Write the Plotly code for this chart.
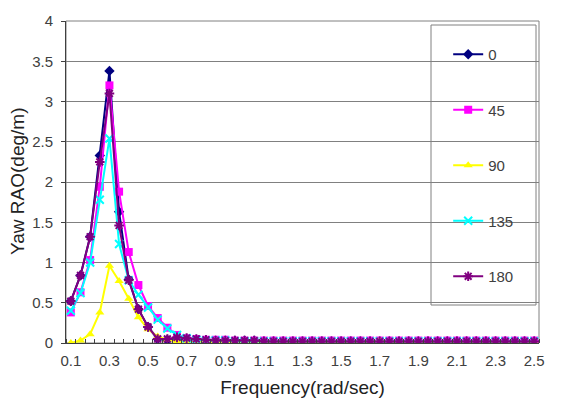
import plotly.graph_objects as go

# Wave frequency (rad/sec)
freq = [0.10, 0.15, 0.20, 0.25, 0.30, 0.35, 0.40, 0.45, 0.50, 0.55,
        0.60, 0.65, 0.70, 0.75, 0.80, 0.85, 0.90, 0.95, 1.00, 1.05,
        1.10, 1.15, 1.20, 1.25, 1.30, 1.35, 1.40, 1.45, 1.50, 1.55,
        1.60, 1.65, 1.70, 1.75, 1.80, 1.85, 1.90, 1.95, 2.00, 2.05,
        2.10, 2.15, 2.20, 2.25, 2.30, 2.35, 2.40, 2.45, 2.50]

# Yaw RAO (deg/m) per heading
rao_0 = [0.52, 0.84, 1.32, 2.33, 3.38, 1.63, 0.79, 0.42, 0.20, 0.05,
         0.04, 0.05, 0.04, 0.04, 0.03, 0.03, 0.03, 0.03, 0.03, 0.03,
         0.02, 0.02, 0.02, 0.02, 0.02, 0.02, 0.02, 0.02, 0.02, 0.02,
         0.02, 0.02, 0.02, 0.02, 0.02, 0.02, 0.02, 0.02, 0.02, 0.02,
         0.02, 0.02, 0.02, 0.02, 0.02, 0.02, 0.02, 0.02, 0.02]
rao_45 = [0.38, 0.63, 1.03, 1.94, 3.20, 1.88, 1.13, 0.72, 0.46, 0.31,
          0.19, 0.10, 0.06, 0.05, 0.04, 0.04, 0.04, 0.03, 0.03, 0.03,
          0.03, 0.03, 0.03, 0.03, 0.03, 0.03, 0.03, 0.03, 0.03, 0.03,
          0.03, 0.03, 0.03, 0.03, 0.03, 0.03, 0.03, 0.03, 0.03, 0.03,
          0.03, 0.03, 0.03, 0.03, 0.03, 0.03, 0.03, 0.03, 0.03]
rao_90 = [0.00, 0.03, 0.11, 0.38, 0.96, 0.77, 0.55, 0.32, 0.17, 0.08,
          0.04, 0.02, 0.02, 0.01, 0.01, 0.01, 0.01, 0.01, 0.01, 0.01,
          0.01, 0.01, 0.01, 0.01, 0.01, 0.01, 0.01, 0.01, 0.01, 0.01,
          0.01, 0.01, 0.03, 0.01, 0.01, 0.01, 0.01, 0.01, 0.01, 0.01,
          0.01, 0.01, 0.02, 0.01, 0.01, 0.01, 0.01, 0.01, 0.01]
rao_135 = [0.40, 0.62, 1.00, 1.78, 2.54, 1.23, 0.78, 0.60, 0.44, 0.29,
           0.18, 0.10, 0.06, 0.04, 0.03, 0.03, 0.03, 0.02, 0.02, 0.02,
           0.02, 0.02, 0.02, 0.02, 0.02, 0.02, 0.02, 0.02, 0.02, 0.02,
           0.02, 0.02, 0.02, 0.02, 0.02, 0.02, 0.02, 0.02, 0.02, 0.02,
           0.02, 0.02, 0.02, 0.02, 0.02, 0.02, 0.02, 0.02, 0.02]
rao_180 = [0.52, 0.84, 1.32, 2.25, 3.10, 1.46, 0.78, 0.42, 0.20, 0.05,
           0.05, 0.07, 0.06, 0.05, 0.04, 0.03, 0.03, 0.03, 0.03, 0.03,
           0.02, 0.02, 0.02, 0.02, 0.02, 0.02, 0.02, 0.02, 0.02, 0.02,
           0.02, 0.02, 0.02, 0.02, 0.02, 0.02, 0.02, 0.02, 0.02, 0.02,
           0.02, 0.02, 0.02, 0.02, 0.02, 0.02, 0.02, 0.02, 0.02]

x_ticks = [0.1, 0.3, 0.5, 0.7, 0.9, 1.1, 1.3, 1.5, 1.7, 1.9, 2.1, 2.3, 2.5]
x_tick_text = ["0.1", "0.3", "0.5", "0.7", "0.9", "1.1", "1.3", "1.5",
               "1.7", "1.9", "2.1", "2.3", "2.5"]
y_ticks = [0, 0.5, 1, 1.5, 2, 2.5, 3, 3.5, 4]
y_tick_text = ["0", "0.5", "1", "1.5", "2", "2.5", "3", "3.5", "4"]

series = [
    ("0", rao_0, "#000080", dict(symbol="diamond", size=8)),
    ("45", rao_45, "#FF00FF", dict(symbol="square", size=8)),
    ("90", rao_90, "#FFFF00", dict(symbol="triangle-up", size=8)),
    ("135", rao_135, "#00FFFF", dict(symbol="x-thin", size=8, line=dict(width=2, color="#00FFFF"))),
    ("180", rao_180, "#800080", dict(symbol="asterisk", size=8, line=dict(width=2, color="#800080"))),
]

FONT = "Liberation Sans, Arial, sans-serif"
TXT = "#404040"

fig = go.Figure()
for name, vals, color, mk in series:
    fig.add_trace(go.Scatter(
        x=freq, y=vals, name=name, mode="lines+markers",
        line=dict(color=color, width=2),
        marker=dict(color=color, **mk),
        legendgroup=name,
    ))

fig.update_layout(
    width=562, height=403,
    margin=dict(l=66, r=23, t=21, b=60),
    paper_bgcolor="white", plot_bgcolor="white",
    font=dict(family=FONT, size=15, color=TXT),
    showlegend=True,
    legend=dict(
        x=0.808, y=0.947, xanchor="left", yanchor="top",
        bgcolor="rgba(0,0,0,0)", borderwidth=0,
        tracegroupgap=33,
        font=dict(family=FONT, size=15, color=TXT),
    ),
    xaxis=dict(
        range=[0.075, 2.525], automargin=False,
        tickmode="array", tickvals=x_ticks, ticktext=x_tick_text,
        ticks="", showgrid=False, zeroline=False,
        showline=True, linecolor="#404040", linewidth=1,
        ticklabelstandoff=4,
        minor=dict(tickmode="linear", tick0=0.075, dtick=0.05,
                   ticks="inside", ticklen=4, tickcolor="#404040", showgrid=False),
        title=dict(text="Frequency(rad/sec)", font=dict(size=19, color="#222222"), standoff=12),
        tickfont=dict(size=15, color=TXT),
    ),
    yaxis=dict(
        range=[0, 4], automargin=False,
        tickmode="array", tickvals=y_ticks, ticktext=y_tick_text,
        ticks="outside", ticklen=4, tickcolor="#404040",
        ticklabelstandoff=5,
        showgrid=True, gridcolor="#808080", gridwidth=1, zeroline=False,
        showline=True, linecolor="#404040", linewidth=1,
        tickfont=dict(size=15, color=TXT),
    ),
    annotations=[
        # y-axis title
        dict(text="Yaw RAO(deg/m)", xref="paper", yref="paper",
             x=(17 - 66) / 473, y=0.5, xanchor="center", yanchor="middle",
             textangle=-90, showarrow=False,
             font=dict(family=FONT, size=19, color="#222222")),
    ],
    shapes=[
        # plot-area frame (top and right edges)
        dict(type="rect", xref="paper", yref="paper", x0=0, x1=1, y0=0, y1=1,
             line=dict(color="#808080", width=1), fillcolor="rgba(0,0,0,0)", layer="below"),
        # legend box
        dict(type="rect", xref="paper", yref="paper",
             x0=(431 - 66) / 473, x1=(536 - 66) / 473,
             y0=(343 - 305) / 322, y1=(343 - 25) / 322,
             line=dict(color="#808080", width=1), fillcolor="white", layer="between"),
    ],
)

fig.write_html("out.html")
